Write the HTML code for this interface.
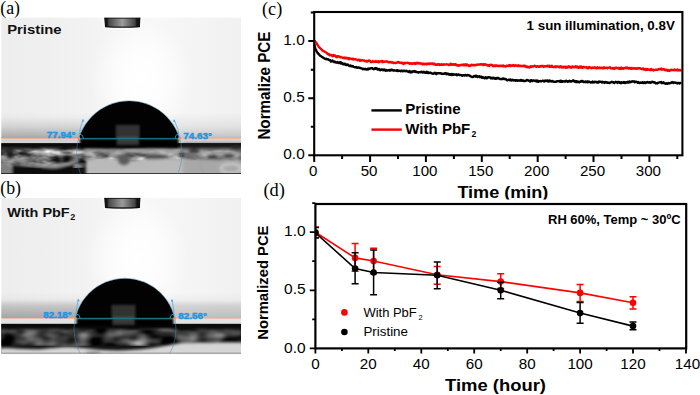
<!DOCTYPE html>
<html lang="en">
<head>
<meta charset="utf-8">
<title>Contact angle and stability figure</title>
<style>
html,body{margin:0;padding:0;background:#fff}
body{width:700px;height:395px;overflow:hidden;position:relative}
svg{position:absolute;left:0;top:0;display:block}
text{font-family:"Liberation Sans",sans-serif}
.serif{font-family:"Liberation Serif",serif}
</style>
</head>
<body>
<svg width="700" height="395" viewBox="0 0 700 395">
<defs>
<clipPath id="clipa"><rect x="1.2" y="17.4" width="239.8" height="156.6"/></clipPath>
<clipPath id="clipb"><rect x="1.2" y="197.7" width="239.8" height="155.7"/></clipPath>
<clipPath id="abovea"><rect x="0" y="0" width="250" height="138.4"/></clipPath>
<clipPath id="aboveb"><rect x="0" y="180" width="250" height="138.3"/></clipPath>
<clipPath id="clipd"><rect x="315.4" y="204" width="370.8" height="144.4"/></clipPath>
<clipPath id="clipxl"><rect x="440" y="180" width="130" height="19.4"/></clipPath>
<linearGradient id="bgH" x1="0" x2="1" y1="0" y2="0">
<stop offset="0" stop-color="#ededed"/><stop offset="0.35" stop-color="#f2f2f2"/><stop offset="0.6" stop-color="#f8f8f8"/><stop offset="1" stop-color="#f1f1f1"/>
</linearGradient>
<radialGradient id="glow"><stop offset="0" stop-color="#fff" stop-opacity="1"/><stop offset="0.5" stop-color="#fff" stop-opacity="0.7"/><stop offset="1" stop-color="#fff" stop-opacity="0"/></radialGradient>
<linearGradient id="hazea" x1="0" x2="0" y1="0" y2="1"><stop offset="0" stop-color="#8e8e8e" stop-opacity="0"/><stop offset="0.55" stop-color="#8e8e8e" stop-opacity="0.16"/><stop offset="0.85" stop-color="#8a8a8a" stop-opacity="0.36"/><stop offset="1" stop-color="#868686" stop-opacity="0.5"/></linearGradient>
<linearGradient id="hazeb" x1="0" x2="0" y1="0" y2="1"><stop offset="0" stop-color="#8e8e8e" stop-opacity="0"/><stop offset="0.3" stop-color="#8e8e8e" stop-opacity="0.07"/><stop offset="0.52" stop-color="#8e8e8e" stop-opacity="0.33"/><stop offset="1" stop-color="#868686" stop-opacity="0.5"/></linearGradient>
<linearGradient id="hazeL" x1="0" x2="0" y1="0" y2="1"><stop offset="0" stop-color="#808080" stop-opacity="0"/><stop offset="0.45" stop-color="#808080" stop-opacity="0.14"/><stop offset="1" stop-color="#808080" stop-opacity="0.36"/></linearGradient>
<linearGradient id="needle" x1="0" x2="1" y1="0" y2="0"><stop offset="0" stop-color="#101010"/><stop offset="0.08" stop-color="#161616"/><stop offset="0.13" stop-color="#484848"/><stop offset="0.5" stop-color="#9c9c9c"/><stop offset="0.85" stop-color="#444"/><stop offset="0.9" stop-color="#161616"/><stop offset="1" stop-color="#101010"/></linearGradient>
<linearGradient id="fadeTop" x1="0" x2="0" y1="0" y2="1"><stop offset="0" stop-color="#0a0a0a" stop-opacity="1"/><stop offset="0.45" stop-color="#0a0a0a" stop-opacity="0.9"/><stop offset="1" stop-color="#0a0a0a" stop-opacity="0"/></linearGradient>
<filter id="texA" x="0" y="0" width="1" height="1" color-interpolation-filters="sRGB"><feTurbulence type="fractalNoise" baseFrequency="0.05 0.115" numOctaves="3" seed="11"/><feColorMatrix type="matrix" values="1.45 0 0 0 -0.31  1.45 0 0 0 -0.31  1.45 0 0 0 -0.31  0 0 0 0 1"/><feGaussianBlur stdDeviation="0.5"/></filter>
<filter id="texB" x="0" y="0" width="1" height="1" color-interpolation-filters="sRGB"><feTurbulence type="fractalNoise" baseFrequency="0.045 0.1" numOctaves="2" seed="23"/><feColorMatrix type="matrix" values="1.3 0 0 0 -0.43  1.3 0 0 0 -0.43  1.3 0 0 0 -0.43  0 0 0 0 1"/><feGaussianBlur stdDeviation="1.0"/></filter>
<filter id="blur1" x="-10%" y="-30%" width="120%" height="160%"><feGaussianBlur stdDeviation="0.9"/></filter>
<filter id="blur2" x="-5%" y="-20%" width="110%" height="140%"><feGaussianBlur stdDeviation="1.6"/></filter>
</defs>
<g id="photo-a" clip-path="url(#clipa)">
<rect x="1.2" y="17.4" width="239.8" height="156.6" fill="url(#bgH)"/>
<rect x="1.2" y="112.4" width="239.8" height="26.0" fill="url(#hazea)"/>
<rect x="1.2" y="118.4" width="85" height="20" fill="url(#hazeL)"/>
<ellipse cx="141.2" cy="78.4" rx="52" ry="60" fill="url(#glow)"/>
<rect x="1.2" y="138.4" width="239.8" height="7" fill="#d2d2d2"/>
<rect x="1.2" y="143.3" width="239.8" height="35.6" fill="#141414"/>
<rect x="1.2" y="146.4" width="239.8" height="21" filter="url(#texA)"/>
<rect x="1.2" y="143.3" width="239.8" height="8" fill="url(#fadeTop)"/>
<g filter="url(#blur2)">
<path d="M-5 161.4C2 160.4 8 162.4 13 167.4V180.0H-5Z" fill="#808080"/>
<path d="M12 164.4C25 166.4 45 168.4 58 166.4S70 164.4 74 163.4V180.0H12Z" fill="#0a0a0a"/>
<path d="M-5 157.4C10 158.4 25 162.4 45 165.4S62 162.4 78 161.4" fill="none" stroke="#b4b4b4" stroke-width="3" opacity="0.8"/>
<path d="M86 180.0V159.9C100 156.9 120 161.4 140 159.9S180 156.9 200 161.4L204 180.0Z" fill="#bababa"/>
<path d="M84 147.9C100 146.4 115 149.9 135 147.9S165 146.4 182 147.9L180 154.9C160 153.4 120 154.9 86 153.4Z" fill="#a8a8a8" opacity="0.7"/>
<path d="M183 147.9H246V180.0H183Z" fill="#9c9c9c" opacity="0.6"/>
<path d="M204 180.0L200 160.4C215 158.4 230 162.4 246 160.4V180.0Z" fill="#a8a8a8"/>
<path d="M183 143.4H246V148.9H183Z" fill="#161616" opacity="0.8"/>
<ellipse cx="231" cy="168.4" rx="10" ry="4.5" fill="none" stroke="#d0d0d0" stroke-width="2"/>
<ellipse cx="194" cy="151.4" rx="6" ry="2.2" fill="#303030"/>
<ellipse cx="212" cy="156.9" rx="5" ry="2" fill="#2a2a2a"/>
<ellipse cx="229" cy="155.9" rx="6" ry="2" fill="#333"/>
<ellipse cx="236" cy="147.9" rx="7" ry="2.6" fill="#2a2a2a"/>
<ellipse cx="156" cy="156.9" rx="11" ry="2.4" fill="#4a4a4a"/>
<ellipse cx="124" cy="160.4" rx="6" ry="5" fill="#5c5c5c"/>
<ellipse cx="10" cy="154.4" rx="4" ry="5" fill="#1c1c1c"/>
</g>
<path d="M1.2 173.5H241.0" stroke="#101010" stroke-width="1" opacity="0.75"/>
<rect x="79.9" y="138.4" width="98.6" height="9.4" fill="#050505" filter="url(#blur1)"/>
<g clip-path="url(#abovea)"><circle cx="129.2" cy="153.5" r="52.5" fill="#020202"/>
<rect x="115.7" y="124.9" width="24" height="26" fill="#303030" filter="url(#blur1)"/></g>
<rect x="116.5" y="138.7" width="22.5" height="6.5" fill="#343434" filter="url(#blur1)"/>
<rect x="117.2" y="136.8" width="21" height="3.6" fill="#585858" opacity="0.7" filter="url(#blur1)"/>
<circle cx="129.2" cy="153.5" r="52.8" fill="none" stroke="#3d8fb0" stroke-width="0.55" opacity="0.85"/>
<path d="M1.2 138.4H78.9 M179.5 138.4H241.0" stroke="#f0a084" stroke-width="0.7" opacity="0.9"/>
<path d="M78.9 138.4H179.5" stroke="#147f8e" stroke-width="0.9"/>
<path d="M78.9 138.4Q79.5 128.9 83.0 119.5" stroke="#4aa8ea" stroke-width="0.75" fill="none"/>
<path d="M83.0 118.9l-1.3 2.6h2.6z" fill="#4aa8ea"/>
<path d="M83.4 138.4A4.5 4.5 0 0 0 79.9 134.0" stroke="#3aa0e6" stroke-width="0.8" fill="none"/>
<circle cx="78.9" cy="138.4" r="1.3" fill="#f08a66"/>
<path d="M179.5 138.4Q178.9 129.1 174.1 119.8" stroke="#4aa8ea" stroke-width="0.75" fill="none"/>
<path d="M174.1 119.2l-1.3 2.6h2.6z" fill="#4aa8ea"/>
<path d="M175.0 138.4A4.5 4.5 0 0 1 178.5 134.0" stroke="#3aa0e6" stroke-width="0.8" fill="none"/>
<circle cx="179.5" cy="138.4" r="1.3" fill="#f08a66"/>
<path d="M103.2 15.4H141.6V28.7H103.2Z" fill="#fff" opacity="0.7" filter="url(#blur1)"/>
<path d="M104.2 17.4H140.4L139.9 27.1Q122.5 28.4 105 27.1Z" fill="url(#needle)"/>
<path d="M105 26.6Q122.5 27.8 139.9 26.6" stroke="#0c0c0c" stroke-width="1.3" fill="none" opacity="0.85"/>
<path d="M104.4 18.1H140.3" stroke="#141414" stroke-width="1.2" opacity="0.8"/>
<text x="46.8" y="138.3" font-size="9.7" font-weight="bold" fill="#1b97e6" stroke="#1b97e6" stroke-width="0.45" textLength="28.6" lengthAdjust="spacingAndGlyphs">77.94°</text>
<text x="183.2" y="138.6" font-size="9.7" font-weight="bold" fill="#1b97e6" stroke="#1b97e6" stroke-width="0.45" textLength="28.8" lengthAdjust="spacingAndGlyphs">74.63°</text>
</g>
<g id="photo-b" clip-path="url(#clipb)">
<rect x="1.2" y="197.7" width="239.8" height="155.7" fill="url(#bgH)"/>
<rect x="1.2" y="292.3" width="239.8" height="26.0" fill="url(#hazeb)"/>
<rect x="1.2" y="298.3" width="85" height="20" fill="url(#hazeL)"/>
<ellipse cx="137.0" cy="258.3" rx="52" ry="60" fill="url(#glow)"/>
<rect x="1.2" y="318.3" width="239.8" height="7" fill="#e2e2e2"/>
<rect x="1.2" y="323.9" width="239.8" height="35.1" fill="#121212"/>
<rect x="1.2" y="327.3" width="239.8" height="18" filter="url(#texB)"/>
<rect x="1.2" y="323.9" width="239.8" height="7" fill="url(#fadeTop)"/>
<g filter="url(#blur2)">
<path d="M-5 359.4V348.8C10 346.3 25 350.8 45 348.8S70 346.3 90 348.8S130 350.8 150 348.3S175 342.8 190 342.8S230 341.8 250 342.8V359.4Z" fill="#d6d6d6"/>
<ellipse cx="93" cy="353.2" rx="8" ry="1.2" fill="#555"/>
</g>
<path d="M1.2 353.0H241.0" stroke="#777" stroke-width="0.8" opacity="0.6"/>
<rect x="76.5" y="318.3" width="97.0" height="8.0" fill="#050505" filter="url(#blur1)"/>
<g clip-path="url(#aboveb)"><circle cx="125.0" cy="329.2" r="50.7" fill="#020202"/>
<rect x="111.5" y="304.8" width="24" height="26" fill="#303030" filter="url(#blur1)"/></g>
<rect x="112.3" y="318.6" width="22.5" height="6.5" fill="#343434" filter="url(#blur1)"/>
<rect x="113.0" y="316.7" width="21" height="3.6" fill="#585858" opacity="0.7" filter="url(#blur1)"/>
<circle cx="125.0" cy="329.2" r="51.0" fill="none" stroke="#3d8fb0" stroke-width="0.55" opacity="0.85"/>
<path d="M1.2 318.3H75.5 M174.5 318.3H241.0" stroke="#f0a084" stroke-width="0.7" opacity="0.9"/>
<path d="M75.5 318.3H174.5" stroke="#147f8e" stroke-width="0.9"/>
<path d="M75.5 318.3Q76.1 308.8 78.4 299.2" stroke="#4aa8ea" stroke-width="0.75" fill="none"/>
<path d="M78.4 298.6l-1.3 2.6h2.6z" fill="#4aa8ea"/>
<path d="M80.0 318.3A4.5 4.5 0 0 0 76.5 313.9" stroke="#3aa0e6" stroke-width="0.8" fill="none"/>
<circle cx="75.5" cy="318.3" r="1.3" fill="#f08a66"/>
<path d="M174.5 318.3Q173.9 309.0 172.0 299.6" stroke="#4aa8ea" stroke-width="0.75" fill="none"/>
<path d="M172.0 299.0l-1.3 2.6h2.6z" fill="#4aa8ea"/>
<path d="M170.0 318.3A4.5 4.5 0 0 1 173.5 313.9" stroke="#3aa0e6" stroke-width="0.8" fill="none"/>
<circle cx="174.5" cy="318.3" r="1.3" fill="#f08a66"/>
<path d="M103.2 195.7H141.6V209.5H103.2Z" fill="#fff" opacity="0.7" filter="url(#blur1)"/>
<path d="M104.2 197.7H140.4L139.9 207.9Q122.5 209.2 105 207.9Z" fill="url(#needle)"/>
<path d="M105 207.4Q122.5 208.6 139.9 207.4" stroke="#0c0c0c" stroke-width="1.3" fill="none" opacity="0.85"/>
<path d="M104.4 198.4H140.3" stroke="#141414" stroke-width="1.2" opacity="0.8"/>
<text x="43.2" y="318.2" font-size="9.7" font-weight="bold" fill="#1b97e6" stroke="#1b97e6" stroke-width="0.45" textLength="28.6" lengthAdjust="spacingAndGlyphs">82.18°</text>
<text x="178.2" y="318.5" font-size="9.7" font-weight="bold" fill="#1b97e6" stroke="#1b97e6" stroke-width="0.45" textLength="28.8" lengthAdjust="spacingAndGlyphs">82.56°</text>
</g>

<text class="serif" x="0.3" y="13.9" font-size="17.8">(a)</text>
<text class="serif" x="0.3" y="194.3" font-size="17.8">(b)</text>
<text class="serif" x="262" y="15.2" font-size="18.2">(c)</text>
<text class="serif" x="263.4" y="195.8" font-size="18.4">(d)</text>
<text x="7.2" y="34.3" font-size="13.4" font-weight="bold" fill="#111" textLength="54.4" lengthAdjust="spacingAndGlyphs">Pristine</text>
<text x="7.2" y="216.8" font-size="13.6" font-weight="bold" fill="#111" textLength="62.5" lengthAdjust="spacingAndGlyphs">With PbF</text><text x="70.2" y="220" font-size="9" font-weight="bold" fill="#111">2</text>
<g id="chart-c">
<polyline points="314.3,43.9 314.9,47.0 315.4,49.0 316.0,50.0 316.5,51.1 317.1,52.1 317.6,52.9 318.2,53.6 318.7,54.0 319.3,54.8 319.8,55.3 320.4,55.9 320.9,56.2 321.5,56.6 322.0,56.8 322.6,57.3 323.1,57.7 323.7,57.9 324.2,58.3 324.8,58.7 325.3,58.9 325.9,59.0 326.4,58.7 327.0,59.4 327.5,59.4 328.1,59.2 328.6,59.8 329.2,60.0 329.7,59.9 330.3,60.3 330.8,61.5 331.4,61.4 331.9,61.2 332.5,60.5 333.0,61.5 333.6,61.4 334.1,62.0 334.7,61.5 335.2,62.2 335.8,62.1 336.3,62.6 336.9,62.6 337.4,61.9 338.0,62.8 338.5,63.0 339.1,62.5 339.6,62.4 340.2,62.3 340.7,63.6 341.3,62.5 341.8,63.5 342.4,63.3 342.9,64.2 343.5,63.8 344.0,64.3 344.6,63.7 345.1,63.7 345.7,64.9 346.2,65.0 346.8,64.5 347.3,64.9 347.9,64.6 348.4,65.5 349.0,65.5 349.5,65.9 350.1,65.5 350.6,65.4 351.2,66.4 351.7,66.4 352.3,66.2 352.8,66.0 353.4,66.9 353.9,66.9 354.5,67.1 355.0,67.3 355.6,67.3 356.1,67.0 356.7,67.5 357.2,67.8 357.8,67.6 358.3,67.4 358.9,67.5 359.4,67.8 360.0,68.0 360.5,67.9 361.1,68.4 361.6,68.4 362.2,68.6 362.7,69.2 363.3,68.8 363.8,69.0 364.4,68.9 364.9,69.3 365.5,68.8 366.0,69.3 366.6,69.2 367.1,69.6 367.7,69.6 368.2,68.6 368.8,69.1 369.3,69.0 369.9,68.4 370.4,68.6 371.0,68.3 371.5,68.3 372.1,68.1 372.6,68.5 373.2,68.9 373.7,69.2 374.3,68.4 374.8,68.4 375.4,68.8 375.9,68.0 376.5,68.3 377.0,68.7 377.6,69.5 378.1,69.1 378.7,69.6 379.2,69.0 379.8,69.6 380.3,70.3 380.9,69.6 381.4,69.5 382.0,69.8 382.5,69.4 383.1,70.3 383.6,69.7 384.2,69.4 384.7,69.8 385.3,70.7 385.8,70.0 386.4,70.5 386.9,70.1 387.5,70.6 388.0,70.4 388.6,70.3 389.1,69.9 389.7,70.6 390.2,70.0 390.8,70.4 391.3,69.8 391.9,69.7 392.4,70.1 393.0,70.4 393.5,70.6 394.1,70.2 394.6,70.5 395.2,70.6 395.7,70.6 396.3,70.4 396.8,70.8 397.4,70.2 397.9,71.0 398.5,70.8 399.0,70.8 399.6,70.6 400.1,70.8 400.7,71.2 401.2,70.6 401.8,70.6 402.3,71.2 402.9,71.1 403.4,70.8 404.0,71.1 404.5,70.7 405.1,71.2 405.6,71.0 406.2,71.1 406.7,70.8 407.3,71.5 407.8,71.5 408.4,71.4 408.9,72.0 409.5,71.1 410.0,71.5 410.6,72.4 411.1,71.6 411.7,72.3 412.2,71.8 412.8,71.3 413.3,71.3 413.9,71.5 414.4,71.0 415.0,71.9 415.5,71.5 416.1,71.7 416.6,72.0 417.2,72.2 417.7,72.3 418.3,72.1 418.8,72.5 419.4,72.2 419.9,72.1 420.5,72.3 421.0,71.7 421.6,71.9 422.1,71.9 422.7,72.6 423.2,72.5 423.8,71.7 424.3,72.0 424.9,72.6 425.4,72.9 426.0,72.6 426.5,71.8 427.1,72.8 427.6,72.1 428.2,73.0 428.7,72.7 429.3,73.0 429.8,72.8 430.4,72.9 430.9,72.7 431.5,73.4 432.0,73.4 432.6,73.6 433.1,73.7 433.7,73.6 434.2,73.0 434.8,72.8 435.3,73.5 435.9,73.1 436.4,74.1 437.0,73.6 437.5,73.2 438.1,73.1 438.6,73.3 439.2,73.3 439.7,73.3 440.3,73.2 440.8,73.3 441.4,73.7 441.9,73.7 442.5,73.7 443.0,74.1 443.6,73.6 444.1,73.7 444.7,73.3 445.2,73.1 445.8,73.1 446.3,74.2 446.9,73.5 447.4,73.6 448.0,74.3 448.5,73.7 449.1,74.7 449.6,74.3 450.2,74.1 450.7,74.8 451.3,74.0 451.8,75.1 452.4,74.5 452.9,74.0 453.5,74.8 454.0,74.6 454.6,74.5 455.1,74.5 455.7,74.8 456.2,74.3 456.8,75.2 457.3,74.6 457.9,74.7 458.4,74.4 459.0,74.6 459.5,75.0 460.1,74.9 460.6,75.1 461.2,75.2 461.7,75.3 462.3,75.8 462.8,75.3 463.4,75.3 463.9,75.2 464.5,75.6 465.0,75.4 465.6,75.0 466.1,75.0 466.7,75.6 467.2,75.0 467.8,75.2 468.3,75.4 468.9,75.2 469.4,75.5 470.0,76.0 470.5,76.4 471.1,76.5 471.6,76.8 472.2,77.1 472.7,76.9 473.3,76.9 473.8,76.1 474.4,76.0 474.9,76.5 475.5,75.8 476.0,76.6 476.6,75.8 477.1,76.1 477.7,77.0 478.2,76.4 478.8,76.6 479.3,76.2 479.9,77.2 480.4,76.6 481.0,76.7 481.5,77.2 482.1,77.8 482.6,77.1 483.2,77.5 483.7,77.4 484.3,78.2 484.8,78.2 485.4,77.3 485.9,77.8 486.5,78.2 487.0,77.5 487.6,77.9 488.1,77.2 488.7,77.1 489.2,77.4 489.8,77.5 490.3,77.4 490.9,78.4 491.4,78.4 492.0,77.8 492.5,78.4 493.1,77.8 493.6,78.2 494.2,77.9 494.7,78.2 495.3,78.9 495.8,78.9 496.4,78.0 496.9,78.6 497.5,78.3 498.0,77.8 498.6,78.2 499.1,78.6 499.7,78.9 500.2,79.1 500.8,79.0 501.3,79.2 501.9,78.9 502.4,79.0 503.0,78.4 503.5,78.5 504.1,79.1 504.6,78.8 505.2,79.0 505.7,78.9 506.3,79.7 506.8,80.2 507.4,80.2 507.9,80.1 508.5,79.8 509.0,79.7 509.6,80.2 510.1,79.5 510.7,79.6 511.2,80.5 511.8,80.4 512.3,79.7 512.9,80.3 513.4,80.2 514.0,80.2 514.5,80.1 515.1,80.8 515.6,80.4 516.2,80.1 516.7,80.2 517.3,80.8 517.8,80.4 518.4,80.5 518.9,80.5 519.5,80.7 520.0,80.5 520.6,80.1 521.1,80.7 521.7,80.1 522.2,80.7 522.8,80.9 523.3,80.4 523.9,81.1 524.4,80.9 525.0,81.1 525.5,80.7 526.1,80.7 526.6,80.2 527.2,79.9 527.7,80.4 528.3,80.4 528.8,80.7 529.4,80.8 529.9,81.4 530.5,81.5 531.0,80.3 531.6,80.2 532.1,80.5 532.7,81.0 533.2,80.4 533.8,80.5 534.3,80.6 534.9,80.7 535.4,81.1 536.0,80.5 536.5,81.4 537.1,80.6 537.6,80.9 538.2,81.7 538.7,80.9 539.3,81.4 539.8,81.4 540.4,81.0 540.9,81.4 541.5,81.1 542.0,81.2 542.6,80.6 543.1,80.6 543.7,81.1 544.2,81.5 544.8,80.7 545.3,80.5 545.9,81.1 546.4,80.7 547.0,80.9 547.5,80.6 548.1,81.5 548.6,80.9 549.2,80.5 549.7,81.3 550.3,80.7 550.8,81.4 551.4,81.2 551.9,81.5 552.5,80.9 553.0,81.5 553.6,81.6 554.1,81.8 554.7,81.9 555.2,81.9 555.8,81.6 556.3,81.7 556.9,81.2 557.4,81.2 558.0,81.2 558.5,81.1 559.1,81.3 559.6,81.0 560.2,81.8 560.7,80.7 561.2,81.9 561.8,81.1 562.3,81.8 562.9,81.1 563.4,81.3 564.0,81.5 564.5,81.5 565.1,81.1 565.6,81.6 566.2,80.7 566.7,81.1 567.3,81.2 567.8,81.8 568.4,81.2 568.9,81.1 569.5,80.8 570.0,81.5 570.6,81.3 571.1,81.1 571.7,81.5 572.2,81.0 572.8,80.7 573.3,80.3 573.9,80.8 574.4,81.5 575.0,81.1 575.5,81.8 576.1,82.1 576.6,81.1 577.2,81.3 577.7,82.0 578.3,81.6 578.8,81.8 579.4,82.3 579.9,81.6 580.5,81.8 581.0,81.6 581.6,80.9 582.1,81.0 582.7,81.5 583.2,81.9 583.8,81.5 584.3,82.1 584.9,82.1 585.4,81.5 586.0,82.0 586.5,81.9 587.1,81.5 587.6,82.2 588.2,81.4 588.7,82.1 589.3,81.8 589.8,81.9 590.4,82.5 590.9,82.1 591.5,82.2 592.0,82.5 592.6,81.6 593.1,82.2 593.7,82.5 594.2,82.2 594.8,81.8 595.3,82.1 595.9,81.7 596.4,82.4 597.0,82.5 597.5,82.0 598.1,82.7 598.6,81.6 599.2,81.5 599.7,82.1 600.3,81.7 600.8,81.9 601.4,82.0 601.9,82.6 602.5,81.7 603.0,82.1 603.6,82.4 604.1,82.3 604.7,82.9 605.2,82.0 605.8,82.1 606.3,82.2 606.9,82.7 607.4,82.4 608.0,82.7 608.5,82.7 609.1,82.9 609.6,83.0 610.2,82.5 610.7,82.3 611.3,82.3 611.8,81.7 612.4,82.2 612.9,82.1 613.5,82.1 614.0,83.0 614.6,82.8 615.1,82.4 615.7,81.8 616.2,82.1 616.8,82.2 617.3,82.9 617.9,81.9 618.4,82.1 619.0,82.0 619.5,82.8 620.1,82.4 620.6,83.1 621.2,82.2 621.7,82.9 622.3,82.5 622.8,82.4 623.4,82.7 623.9,81.9 624.5,82.6 625.0,83.0 625.6,82.5 626.1,82.6 626.7,82.2 627.2,82.5 627.8,81.8 628.3,82.5 628.9,82.6 629.4,81.5 630.0,81.6 630.5,82.2 631.1,81.9 631.6,81.6 632.2,81.3 632.7,81.6 633.3,81.6 633.8,81.4 634.4,81.5 634.9,82.3 635.5,81.6 636.0,81.6 636.6,81.9 637.1,81.9 637.7,82.7 638.2,81.9 638.8,82.5 639.3,83.0 639.9,83.0 640.4,82.5 641.0,82.8 641.5,82.9 642.1,82.5 642.6,82.2 643.2,83.1 643.7,82.4 644.3,82.8 644.8,82.2 645.4,83.1 645.9,82.9 646.5,82.4 647.0,82.3 647.6,81.9 648.1,82.5 648.7,82.6 649.2,82.2 649.8,82.4 650.3,82.9 650.9,82.7 651.4,82.0 652.0,82.1 652.5,81.7 653.1,82.0 653.6,82.4 654.2,82.6 654.7,82.2 655.3,83.2 655.8,83.3 656.4,83.2 656.9,83.3 657.5,83.3 658.0,82.8 658.6,82.7 659.1,82.5 659.7,82.2 660.2,82.2 660.8,82.6 661.3,82.0 661.9,83.2 662.4,82.6 663.0,82.8 663.5,82.3 664.1,83.1 664.6,83.4 665.2,83.4 665.7,83.7 666.3,83.3 666.8,83.6 667.4,83.8 667.9,83.1 668.5,83.0 669.0,83.6 669.6,83.2 670.1,83.1 670.7,83.1 671.2,82.6 671.8,82.3 672.3,82.6 672.9,82.0 673.4,83.1 674.0,82.7 674.5,82.6 675.1,82.4 675.6,82.8 676.2,82.8 676.7,83.0 677.3,83.4 677.8,82.9 678.4,83.1 678.9,83.0 679.5,83.5 680.0,82.9 680.6,82.9 681.1,82.4" fill="none" stroke="#000" stroke-width="2.4" stroke-linejoin="round"/>
<polyline points="314.3,40.6 314.9,41.2 315.4,41.8 316.0,42.6 316.5,43.2 317.1,44.2 317.6,45.0 318.2,45.7 318.7,46.7 319.3,47.4 319.8,47.8 320.4,48.4 320.9,48.8 321.5,49.4 322.0,50.0 322.6,50.5 323.1,50.9 323.7,51.3 324.2,51.4 324.8,51.7 325.3,52.0 325.9,52.3 326.4,52.8 327.0,53.1 327.5,53.8 328.1,54.1 328.6,54.6 329.2,54.0 329.7,55.2 330.3,55.1 330.8,54.9 331.4,55.5 331.9,54.9 332.5,56.2 333.0,55.8 333.6,55.1 334.1,55.8 334.7,55.4 335.2,55.6 335.8,56.1 336.3,57.1 336.9,57.2 337.4,56.2 338.0,56.3 338.5,56.6 339.1,56.5 339.6,57.1 340.2,57.2 340.7,56.9 341.3,57.2 341.8,57.5 342.4,57.6 342.9,57.8 343.5,58.1 344.0,57.5 344.6,58.2 345.1,57.7 345.7,58.3 346.2,58.2 346.8,57.7 347.3,58.3 347.9,58.4 348.4,59.0 349.0,58.0 349.5,59.2 350.1,58.6 350.6,58.6 351.2,58.6 351.7,59.0 352.3,58.7 352.8,58.6 353.4,59.6 353.9,59.0 354.5,59.3 355.0,59.4 355.6,59.3 356.1,59.5 356.7,59.8 357.2,59.8 357.8,60.2 358.3,60.2 358.9,59.7 359.4,59.9 360.0,60.8 360.5,60.0 361.1,60.6 361.6,60.5 362.2,60.2 362.7,60.4 363.3,60.5 363.8,60.5 364.4,60.5 364.9,61.1 365.5,61.4 366.0,61.3 366.6,60.8 367.1,61.6 367.7,61.3 368.2,61.0 368.8,60.5 369.3,60.9 369.9,60.8 370.4,61.7 371.0,62.2 371.5,62.0 372.1,61.8 372.6,61.1 373.2,61.5 373.7,61.9 374.3,61.4 374.8,61.8 375.4,61.8 375.9,61.1 376.5,61.8 377.0,61.7 377.6,62.0 378.1,61.3 378.7,62.3 379.2,61.4 379.8,61.6 380.3,61.5 380.9,61.2 381.4,61.2 382.0,61.0 382.5,62.2 383.1,61.6 383.6,61.4 384.2,61.8 384.7,61.6 385.3,61.5 385.8,61.6 386.4,61.6 386.9,61.3 387.5,61.8 388.0,61.8 388.6,62.3 389.1,62.0 389.7,62.4 390.2,62.4 390.8,62.0 391.3,62.5 391.9,62.1 392.4,62.6 393.0,62.4 393.5,63.1 394.1,62.6 394.6,62.8 395.2,63.0 395.7,63.0 396.3,63.0 396.8,62.8 397.4,62.1 397.9,62.2 398.5,62.0 399.0,62.4 399.6,62.9 400.1,62.8 400.7,62.9 401.2,63.0 401.8,62.6 402.3,63.2 402.9,62.9 403.4,63.9 404.0,62.9 404.5,63.5 405.1,62.7 405.6,63.0 406.2,63.0 406.7,62.9 407.3,62.9 407.8,62.8 408.4,63.0 408.9,62.9 409.5,63.7 410.0,63.5 410.6,63.6 411.1,63.3 411.7,63.7 412.2,63.7 412.8,63.8 413.3,63.2 413.9,63.4 414.4,62.9 415.0,63.9 415.5,63.5 416.1,63.7 416.6,63.1 417.2,62.7 417.7,63.2 418.3,63.0 418.8,63.5 419.4,63.6 419.9,63.2 420.5,63.6 421.0,63.5 421.6,63.8 422.1,63.6 422.7,64.4 423.2,63.6 423.8,64.0 424.3,64.3 424.9,63.8 425.4,63.6 426.0,63.9 426.5,64.4 427.1,64.2 427.6,63.7 428.2,63.5 428.7,64.1 429.3,63.5 429.8,64.0 430.4,63.4 430.9,63.6 431.5,63.6 432.0,63.8 432.6,63.5 433.1,64.1 433.7,64.2 434.2,63.6 434.8,64.2 435.3,64.8 435.9,64.5 436.4,64.8 437.0,64.6 437.5,64.8 438.1,64.1 438.6,64.4 439.2,64.9 439.7,64.3 440.3,64.9 440.8,64.9 441.4,64.2 441.9,64.4 442.5,64.9 443.0,64.8 443.6,64.7 444.1,64.3 444.7,64.6 445.2,64.6 445.8,64.5 446.3,64.4 446.9,64.3 447.4,64.5 448.0,64.7 448.5,64.6 449.1,65.0 449.6,65.0 450.2,64.2 450.7,63.8 451.3,64.7 451.8,64.0 452.4,64.6 452.9,64.8 453.5,64.3 454.0,64.3 454.6,64.7 455.1,64.2 455.7,64.2 456.2,65.3 456.8,65.0 457.3,65.2 457.9,65.7 458.4,65.0 459.0,65.3 459.5,65.6 460.1,65.3 460.6,65.0 461.2,65.0 461.7,64.9 462.3,64.6 462.8,64.7 463.4,65.3 463.9,64.6 464.5,65.3 465.0,64.7 465.6,64.3 466.1,65.3 466.7,65.2 467.2,64.5 467.8,65.2 468.3,65.6 468.9,65.2 469.4,66.0 470.0,65.6 470.5,65.7 471.1,64.9 471.6,64.8 472.2,64.9 472.7,65.1 473.3,65.2 473.8,64.9 474.4,65.0 474.9,65.4 475.5,65.0 476.0,65.1 476.6,64.8 477.1,64.5 477.7,64.7 478.2,64.7 478.8,64.6 479.3,64.6 479.9,64.3 480.4,64.6 481.0,64.0 481.5,64.5 482.1,64.3 482.6,64.7 483.2,65.1 483.7,64.1 484.3,64.3 484.8,64.7 485.4,64.2 485.9,64.7 486.5,65.1 487.0,65.2 487.6,65.0 488.1,65.6 488.7,65.0 489.2,66.0 489.8,65.0 490.3,64.8 490.9,64.6 491.4,65.1 492.0,64.9 492.5,65.5 493.1,66.2 493.6,65.4 494.2,65.9 494.7,65.5 495.3,66.2 495.8,65.4 496.4,65.7 496.9,65.4 497.5,66.1 498.0,66.0 498.6,66.0 499.1,65.7 499.7,66.1 500.2,65.6 500.8,66.1 501.3,66.0 501.9,65.6 502.4,65.6 503.0,66.3 503.5,65.6 504.1,66.3 504.6,66.4 505.2,66.1 505.7,66.5 506.3,66.0 506.8,65.7 507.4,65.6 507.9,65.7 508.5,66.0 509.0,65.2 509.6,65.7 510.1,65.1 510.7,66.0 511.2,65.5 511.8,65.7 512.3,65.9 512.9,65.3 513.4,65.0 514.0,65.3 514.5,66.0 515.1,65.9 515.6,65.2 516.2,65.6 516.7,65.6 517.3,66.0 517.8,65.7 518.4,65.2 518.9,66.0 519.5,65.8 520.0,66.1 520.6,65.8 521.1,66.1 521.7,65.9 522.2,66.0 522.8,66.3 523.3,65.8 523.9,66.1 524.4,65.8 525.0,65.7 525.5,66.6 526.1,67.1 526.6,67.0 527.2,66.4 527.7,67.2 528.3,66.9 528.8,66.9 529.4,67.6 529.9,67.4 530.5,66.2 531.0,66.5 531.6,66.8 532.1,66.7 532.7,66.2 533.2,66.5 533.8,66.1 534.3,65.9 534.9,65.7 535.4,66.3 536.0,66.7 536.5,66.9 537.1,66.1 537.6,66.3 538.2,66.4 538.7,66.7 539.3,66.2 539.8,66.8 540.4,66.1 540.9,66.0 541.5,66.4 542.0,66.0 542.6,65.8 543.1,66.3 543.7,67.0 544.2,66.4 544.8,66.1 545.3,66.4 545.9,66.4 546.4,65.9 547.0,66.4 547.5,65.8 548.1,65.8 548.6,66.2 549.2,66.7 549.7,65.8 550.3,66.7 550.8,66.8 551.4,66.2 551.9,65.8 552.5,66.8 553.0,66.6 553.6,67.2 554.1,67.0 554.7,66.8 555.2,66.2 555.8,67.2 556.3,66.5 556.9,66.5 557.4,66.6 558.0,66.5 558.5,66.8 559.1,67.1 559.6,67.3 560.2,66.3 560.7,66.9 561.2,66.6 561.8,67.4 562.3,66.9 562.9,66.7 563.4,67.5 564.0,66.7 564.5,66.9 565.1,67.5 565.6,66.8 566.2,67.8 566.7,67.1 567.3,66.7 567.8,67.5 568.4,66.5 568.9,66.3 569.5,67.1 570.0,67.2 570.6,66.8 571.1,67.7 571.7,66.7 572.2,66.7 572.8,66.5 573.3,67.4 573.9,67.2 574.4,67.2 575.0,67.0 575.5,66.2 576.1,66.6 576.6,67.2 577.2,66.6 577.7,67.4 578.3,66.9 578.8,67.8 579.4,66.7 579.9,66.6 580.5,67.4 581.0,66.4 581.6,67.7 582.1,67.1 582.7,67.8 583.2,67.5 583.8,66.7 584.3,67.4 584.9,67.4 585.4,67.4 586.0,67.3 586.5,67.2 587.1,68.0 587.6,67.4 588.2,68.3 588.7,67.4 589.3,67.0 589.8,67.6 590.4,67.5 590.9,68.0 591.5,68.3 592.0,67.8 592.6,67.5 593.1,67.8 593.7,67.8 594.2,67.6 594.8,67.3 595.3,67.6 595.9,68.2 596.4,68.3 597.0,68.3 597.5,67.3 598.1,68.0 598.6,67.8 599.2,68.1 599.7,67.5 600.3,68.0 600.8,68.0 601.4,68.0 601.9,67.6 602.5,68.2 603.0,68.1 603.6,68.2 604.1,67.3 604.7,68.1 605.2,68.1 605.8,67.7 606.3,67.8 606.9,67.7 607.4,68.3 608.0,67.6 608.5,67.7 609.1,67.6 609.6,67.6 610.2,67.2 610.7,68.3 611.3,68.1 611.8,68.5 612.4,68.3 612.9,68.0 613.5,68.4 614.0,68.9 614.6,68.0 615.1,68.6 615.7,67.7 616.2,67.6 616.8,68.0 617.3,68.1 617.9,68.1 618.4,68.4 619.0,67.8 619.5,68.7 620.1,68.2 620.6,68.9 621.2,67.6 621.7,68.0 622.3,68.7 622.8,68.2 623.4,68.7 623.9,68.0 624.5,68.1 625.0,68.2 625.6,67.9 626.1,67.4 626.7,68.1 627.2,67.6 627.8,68.4 628.3,67.9 628.9,68.6 629.4,68.0 630.0,67.9 630.5,68.7 631.1,68.8 631.6,67.9 632.2,68.2 632.7,68.7 633.3,68.5 633.8,68.1 634.4,68.6 634.9,68.2 635.5,68.4 636.0,68.8 636.6,68.2 637.1,68.5 637.7,68.2 638.2,68.7 638.8,68.0 639.3,68.3 639.9,68.2 640.4,68.4 641.0,69.0 641.5,69.0 642.1,68.8 642.6,69.0 643.2,68.4 643.7,69.5 644.3,69.2 644.8,69.5 645.4,68.9 645.9,70.0 646.5,69.9 647.0,69.0 647.6,69.3 648.1,69.7 648.7,69.5 649.2,69.6 649.8,70.1 650.3,69.6 650.9,70.0 651.4,69.1 652.0,69.7 652.5,70.0 653.1,69.8 653.6,70.4 654.2,69.9 654.7,70.0 655.3,69.7 655.8,69.9 656.4,69.9 656.9,69.6 657.5,69.6 658.0,69.7 658.6,69.2 659.1,69.1 659.7,68.9 660.2,69.2 660.8,69.1 661.3,68.6 661.9,69.7 662.4,69.5 663.0,69.0 663.5,69.2 664.1,69.3 664.6,70.0 665.2,69.7 665.7,69.9 666.3,70.3 666.8,69.7 667.4,70.6 667.9,70.8 668.5,70.3 669.0,69.9 669.6,70.7 670.1,70.4 670.7,70.1 671.2,69.8 671.8,70.1 672.3,69.9 672.9,69.9 673.4,69.9 674.0,70.3 674.5,69.6 675.1,70.1 675.6,70.0 676.2,70.3 676.7,70.3 677.3,69.4 677.8,70.3 678.4,69.9 678.9,70.5 679.5,70.1 680.0,69.9 680.6,70.4 681.1,69.9" fill="none" stroke="#ff0000" stroke-width="2.4" stroke-linejoin="round"/>
<path d="M314.2 155.3v6.8 M342.1 155.3v3.8 M370.1 155.3v6.8 M398.0 155.3v3.8 M425.9 155.3v6.8 M453.9 155.3v3.8 M481.8 155.3v6.8 M509.7 155.3v3.8 M537.7 155.3v6.8 M565.6 155.3v3.8 M593.5 155.3v6.8 M621.5 155.3v3.8 M649.4 155.3v6.8 M677.3 155.3v3.8 M314.2 155.3h-5.9 M314.2 126.8h-3.4 M314.2 98.2h-5.9 M314.2 69.7h-3.4 M314.2 41.1h-5.9 M314.2 12.6h-3.4" stroke="#000" stroke-width="2.0" fill="none"/>
<rect x="314.2" y="12.0" width="368.2" height="143.3" fill="none" stroke="#000" stroke-width="2.1"/>
<text x="313.2" y="175.8" font-size="15.5" text-anchor="middle" textLength="8.4" lengthAdjust="spacingAndGlyphs" fill="#000">0</text>
<text x="369.1" y="175.8" font-size="15.5" text-anchor="middle" textLength="16.8" lengthAdjust="spacingAndGlyphs" fill="#000">50</text>
<text x="424.9" y="175.8" font-size="15.5" text-anchor="middle" textLength="25.2" lengthAdjust="spacingAndGlyphs" fill="#000">100</text>
<text x="480.8" y="175.8" font-size="15.5" text-anchor="middle" textLength="25.2" lengthAdjust="spacingAndGlyphs" fill="#000">150</text>
<text x="536.7" y="175.8" font-size="15.5" text-anchor="middle" textLength="25.2" lengthAdjust="spacingAndGlyphs" fill="#000">200</text>
<text x="592.5" y="175.8" font-size="15.5" text-anchor="middle" textLength="25.2" lengthAdjust="spacingAndGlyphs" fill="#000">250</text>
<text x="648.4" y="175.8" font-size="15.5" text-anchor="middle" textLength="25.2" lengthAdjust="spacingAndGlyphs" fill="#000">300</text>
<text x="304.7" y="159.2" font-size="15.4" text-anchor="end" textLength="21.4" lengthAdjust="spacingAndGlyphs" fill="#000">0.0</text>
<text x="304.7" y="102.1" font-size="15.4" text-anchor="end" textLength="21.4" lengthAdjust="spacingAndGlyphs" fill="#000">0.5</text>
<text x="304.7" y="45.0" font-size="15.4" text-anchor="end" textLength="21.4" lengthAdjust="spacingAndGlyphs" fill="#000">1.0</text>
<text transform="translate(269.8,139.6) rotate(-90)" font-size="16" font-weight="bold" textLength="108" lengthAdjust="spacingAndGlyphs">Normalize PCE</text>
<text x="526.6" y="30.4" font-size="12.3" font-weight="bold" textLength="148.2" lengthAdjust="spacingAndGlyphs">1 sun illumination, 0.8V</text>
<path d="M371.4 110.4H401.8" stroke="#000" stroke-width="2.4"/>
<path d="M371.4 129.6H401.8" stroke="#ff0000" stroke-width="2.4"/>
<text x="405.3" y="114.3" font-size="14.6" font-weight="bold" textLength="55.3" lengthAdjust="spacingAndGlyphs">Pristine</text>
<text x="405.3" y="133.7" font-size="14.6" font-weight="bold" textLength="65" lengthAdjust="spacingAndGlyphs">With PbF</text><text x="471.6" y="137.2" font-size="8.6" font-weight="bold">2</text>
</g>
<g clip-path="url(#clipxl)"><text x="457.4" y="198.4" font-size="16.6" font-weight="bold" textLength="91" lengthAdjust="spacingAndGlyphs">Time (min)</text></g>
<g id="chart-d">
<path d="M315.4 348.4v5.2 M341.9 348.4v2.6 M368.3 348.4v5.2 M394.8 348.4v2.6 M421.3 348.4v5.2 M447.8 348.4v2.6 M474.2 348.4v5.2 M500.7 348.4v2.6 M527.2 348.4v5.2 M553.6 348.4v2.6 M580.1 348.4v5.2 M606.6 348.4v2.6 M633.0 348.4v5.2 M659.5 348.4v2.6 M686.0 348.4v5.2 M315.4 348.4h-5.6 M315.4 319.3h-3.2 M315.4 290.3h-5.6 M315.4 261.2h-3.2 M315.4 232.2h-5.6 M315.4 203.1h-3.2" stroke="#000" stroke-width="1.8" fill="none"/>
<g clip-path="url(#clipd)">
<polyline points="315.4,232.2 355.1,257.9 373.6,261.0 437.2,274.8 500.7,281.6 580.1,292.9 633.0,302.8" fill="none" stroke="#ff0000" stroke-width="1.6"/>
<path d="M315.4 227.0V237.4 M311.9 227.0h7 M311.9 237.4h7 M355.1 243.5V271.2 M351.6 243.5h7 M351.6 271.2h7 M373.6 248.2V273.8 M370.1 248.2h7 M370.1 273.8h7 M437.2 266.5V284.3 M433.7 266.5h7 M433.7 284.3h7 M500.7 273.8V288.6 M497.2 273.8h7 M497.2 288.6h7 M580.1 284.4V301.5 M576.6 284.4h7 M576.6 301.5h7 M633.0 296.7V309.0 M629.5 296.7h7 M629.5 309.0h7" stroke="#ff0000" stroke-width="1.5" fill="none"/>
<circle cx="315.4" cy="232.2" r="3.3" fill="#ff0000"/>
<circle cx="355.1" cy="257.9" r="3.3" fill="#ff0000"/>
<circle cx="373.6" cy="261.0" r="3.3" fill="#ff0000"/>
<circle cx="437.2" cy="274.8" r="3.3" fill="#ff0000"/>
<circle cx="500.7" cy="281.6" r="3.3" fill="#ff0000"/>
<circle cx="580.1" cy="292.9" r="3.3" fill="#ff0000"/>
<circle cx="633.0" cy="302.8" r="3.3" fill="#ff0000"/>
<polyline points="315.4,232.8 355.1,268.5 373.6,272.5 437.2,275.3 500.7,290.2 580.1,313.1 633.0,326.1" fill="none" stroke="#000" stroke-width="1.6"/>
<path d="M315.4 227.6V238.0 M311.9 227.6h7 M311.9 238.0h7 M355.1 252.7V283.7 M351.6 252.7h7 M351.6 283.7h7 M373.6 249.9V294.8 M370.1 249.9h7 M370.1 294.8h7 M437.2 262.1V288.7 M433.7 262.1h7 M433.7 288.7h7 M500.7 282.2V298.8 M497.2 282.2h7 M497.2 298.8h7 M580.1 302.5V323.3 M576.6 302.5h7 M576.6 323.3h7 M633.0 322.0V329.8 M629.5 322.0h7 M629.5 329.8h7" stroke="#000" stroke-width="1.5" fill="none"/>
<circle cx="315.4" cy="232.8" r="3.3" fill="#000"/>
<circle cx="355.1" cy="268.5" r="3.3" fill="#000"/>
<circle cx="373.6" cy="272.5" r="3.3" fill="#000"/>
<circle cx="437.2" cy="275.3" r="3.3" fill="#000"/>
<circle cx="500.7" cy="290.2" r="3.3" fill="#000"/>
<circle cx="580.1" cy="313.1" r="3.3" fill="#000"/>
<circle cx="633.0" cy="326.1" r="3.3" fill="#000"/>
</g>
<rect x="315.4" y="204.0" width="370.8" height="144.4" fill="none" stroke="#000" stroke-width="2.2"/>
<text x="315.4" y="368.5" font-size="14.5" text-anchor="middle" textLength="8.5" lengthAdjust="spacingAndGlyphs" fill="#000">0</text>
<text x="368.3" y="368.5" font-size="14.5" text-anchor="middle" textLength="16.9" lengthAdjust="spacingAndGlyphs" fill="#000">20</text>
<text x="421.3" y="368.5" font-size="14.5" text-anchor="middle" textLength="16.9" lengthAdjust="spacingAndGlyphs" fill="#000">40</text>
<text x="474.2" y="368.5" font-size="14.5" text-anchor="middle" textLength="16.9" lengthAdjust="spacingAndGlyphs" fill="#000">60</text>
<text x="527.2" y="368.5" font-size="14.5" text-anchor="middle" textLength="16.9" lengthAdjust="spacingAndGlyphs" fill="#000">80</text>
<text x="580.1" y="368.5" font-size="14.5" text-anchor="middle" textLength="25.4" lengthAdjust="spacingAndGlyphs" fill="#000">100</text>
<text x="633.0" y="368.5" font-size="14.5" text-anchor="middle" textLength="25.4" lengthAdjust="spacingAndGlyphs" fill="#000">120</text>
<text x="687.5" y="368.5" font-size="14.5" text-anchor="middle" textLength="25.4" lengthAdjust="spacingAndGlyphs" fill="#000">140</text>
<text x="305.6" y="352.5" font-size="14.2" text-anchor="end" textLength="21.6" lengthAdjust="spacingAndGlyphs" fill="#000">0.0</text>
<text x="305.6" y="294.4" font-size="14.2" text-anchor="end" textLength="21.6" lengthAdjust="spacingAndGlyphs" fill="#000">0.5</text>
<text x="305.6" y="236.3" font-size="14.2" text-anchor="end" textLength="21.6" lengthAdjust="spacingAndGlyphs" fill="#000">1.0</text>
<text transform="translate(268.1,339.8) rotate(-90)" font-size="15.4" font-weight="bold" textLength="114.3" lengthAdjust="spacingAndGlyphs">Normalized PCE</text>
<text x="548" y="224" font-size="12" font-weight="bold" textLength="132.6" lengthAdjust="spacingAndGlyphs">RH 60%, Temp ~ 30ºC</text>
<circle cx="344.4" cy="312.4" r="3.3" fill="#ff0000"/><circle cx="344.4" cy="332" r="3.3" fill="#000"/>
<text x="363.4" y="316.8" font-size="12.6" textLength="53.4" lengthAdjust="spacingAndGlyphs">With PbF</text><text x="418.6" y="319.8" font-size="7.4">2</text>
<text x="363.4" y="336.1" font-size="12.6" textLength="44.6" lengthAdjust="spacingAndGlyphs">Pristine</text>
<text x="445" y="390.7" font-size="16.3" font-weight="bold" textLength="101" lengthAdjust="spacingAndGlyphs">Time (hour)</text>
</g>
</svg>
</body>
</html>
